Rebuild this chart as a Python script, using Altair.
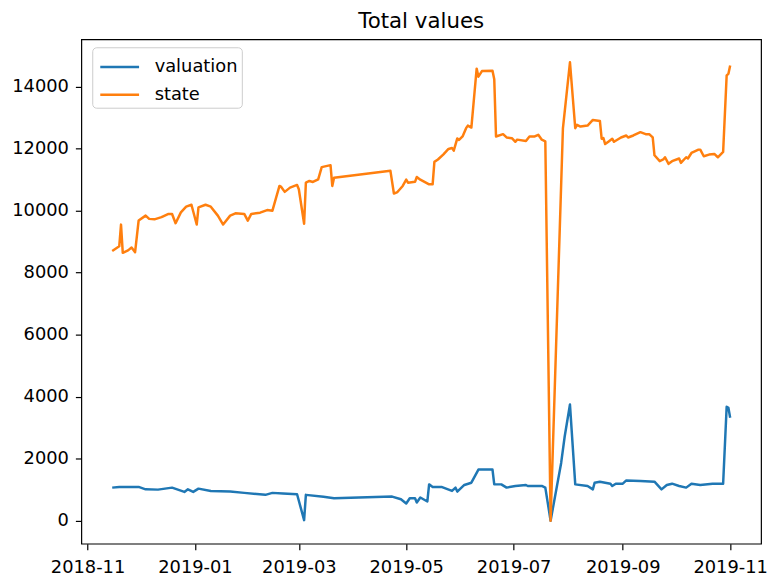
import altair as alt
import pandas as pd

series_names = ["valuation", "state"]
series_colors = ["#1f77b4", "#ff7f0e"]

valuation_dates = [
    "2018-11-15", "2018-11-19", "2018-11-30", "2018-12-04", "2018-12-11", "2018-12-19",
    "2018-12-26", "2018-12-28", "2018-12-31", "2019-01-03", "2019-01-10", "2019-01-21",
    "2019-01-29", "2019-02-10", "2019-02-14", "2019-02-20", "2019-02-28", "2019-03-04",
    "2019-03-05", "2019-03-15", "2019-03-21", "2019-04-23", "2019-04-28", "2019-05-01",
    "2019-05-03", "2019-05-06", "2019-05-07", "2019-05-09", "2019-05-13", "2019-05-14",
    "2019-05-16", "2019-05-21", "2019-05-27", "2019-05-29", "2019-05-30", "2019-06-03",
    "2019-06-07", "2019-06-09", "2019-06-11", "2019-06-19", "2019-06-20", "2019-06-24",
    "2019-06-27", "2019-07-02", "2019-07-08", "2019-07-09", "2019-07-17", "2019-07-19",
    "2019-07-22", "2019-07-28", "2019-07-30", "2019-08-02", "2019-08-05", "2019-08-12",
    "2019-08-15", "2019-08-16", "2019-08-19", "2019-08-25", "2019-08-26", "2019-08-28",
    "2019-09-01", "2019-09-03", "2019-09-11", "2019-09-19", "2019-09-23", "2019-09-26",
    "2019-09-29", "2019-10-03", "2019-10-07", "2019-10-10", "2019-10-15", "2019-10-22",
    "2019-10-28", "2019-10-30", "2019-10-31", "2019-11-01",
]
valuation_values = [
    1069, 1091, 1091, 1014, 1005, 1069,
    931, 1014, 931, 1037, 963, 941,
    900, 836, 900, 877, 855, 20,
    836, 772, 727, 781, 695, 558,
    727, 727, 590, 750, 622, 1174,
    1091, 1091, 963, 1069, 941, 1155,
    1228, 1442, 1652, 1652, 1174, 1174,
    1069, 1123, 1155, 1123, 1123, 1069,
    0, 1866, 2718, 3748, 1174, 1123,
    1014, 1228, 1260, 1196, 1123, 1196,
    1196, 1301, 1282, 1260, 1014, 1155,
    1196, 1123, 1069, 1196, 1155, 1196,
    1196, 3675, 3640, 3324,
]

state_dates = [
    "2018-11-15", "2018-11-19", "2018-11-20", "2018-11-21", "2018-11-24", "2018-11-26",
    "2018-11-28", "2018-11-30", "2018-12-04", "2018-12-06", "2018-12-09", "2018-12-13",
    "2018-12-17", "2018-12-19", "2018-12-21", "2018-12-24", "2018-12-27", "2018-12-30",
    "2019-01-02", "2019-01-03", "2019-01-07", "2019-01-10", "2019-01-14", "2019-01-17",
    "2019-01-21", "2019-01-24", "2019-01-29", "2019-01-31", "2019-02-02", "2019-02-07",
    "2019-02-11", "2019-02-14", "2019-02-18", "2019-02-19", "2019-02-21", "2019-02-24",
    "2019-02-28", "2019-03-01", "2019-03-04", "2019-03-05", "2019-03-07", "2019-03-09",
    "2019-03-12", "2019-03-14", "2019-03-19", "2019-03-20", "2019-03-21", "2019-04-22",
    "2019-04-24", "2019-04-26", "2019-04-29", "2019-05-01", "2019-05-02", "2019-05-06",
    "2019-05-07", "2019-05-09", "2019-05-14", "2019-05-16", "2019-05-17", "2019-05-19",
    "2019-05-22", "2019-05-25", "2019-05-27", "2019-05-28", "2019-05-30", "2019-05-31",
    "2019-06-02", "2019-06-04", "2019-06-05", "2019-06-07", "2019-06-10", "2019-06-11",
    "2019-06-13", "2019-06-19", "2019-06-20", "2019-06-21", "2019-06-25", "2019-06-27",
    "2019-06-30", "2019-07-02", "2019-07-03", "2019-07-08", "2019-07-10", "2019-07-13",
    "2019-07-15", "2019-07-17", "2019-07-19", "2019-07-22", "2019-07-29", "2019-08-02",
    "2019-08-05", "2019-08-06", "2019-08-08", "2019-08-12", "2019-08-15", "2019-08-19",
    "2019-08-20", "2019-08-21", "2019-08-22", "2019-08-24", "2019-08-26", "2019-08-27",
    "2019-08-31", "2019-09-03", "2019-09-04", "2019-09-07", "2019-09-11", "2019-09-14",
    "2019-09-16", "2019-09-18", "2019-09-19", "2019-09-22", "2019-09-24", "2019-09-25",
    "2019-09-27", "2019-09-29", "2019-10-03", "2019-10-04", "2019-10-07", "2019-10-08",
    "2019-10-10", "2019-10-14", "2019-10-15", "2019-10-17", "2019-10-20", "2019-10-23",
    "2019-10-25", "2019-10-28", "2019-10-30", "2019-10-31", "2019-11-01",
]
state_values = [
    8700, 8850, 9550, 8640, 8720, 8810,
    8660, 9680, 9840, 9735, 9720, 9790,
    9895, 9890, 9595, 9945, 10128, 10190,
    9553, 10105, 10190, 10128, 9840, 9553,
    9840, 9915, 9895, 9680, 9895, 9935,
    10020, 10000, 10797, 10765, 10606, 10743,
    10829, 10692, 9576, 10903, 10957, 10925,
    11011, 11404, 11467, 10797, 11063, 11290,
    10552, 10600, 10797, 11000, 10903, 10930,
    11085, 11000, 10850, 10850, 11573, 11649,
    11808, 11990, 12019, 11936, 12330, 12280,
    12392, 12660, 12743, 12680, 14580, 14320,
    14500, 14510, 14240, 12392, 12466, 12360,
    12338, 12220, 12290, 12245, 12392, 12392,
    12447, 12287, 12233, 0, 12657, 14785,
    12657, 12765, 12711, 12743, 12925, 12893,
    12319, 12340, 12147, 12233, 12319, 12220,
    12360, 12424, 12360, 12424, 12530, 12466,
    12466, 12360, 11786, 11595, 11650, 11722,
    11509, 11595, 11681, 11541, 11722, 11681,
    11860, 11968, 11968, 11754, 11808, 11828,
    11722, 11892, 14360, 14411, 14679,
]

x_tick_months = [(2018, 11), (2019, 1), (2019, 3), (2019, 5), (2019, 7), (2019, 9), (2019, 11)]
y_ticks = [0, 2000, 4000, 6000, 8000, 10000, 12000, 14000]

FONT = "DejaVu Sans"

val_df = pd.DataFrame({"date": valuation_dates, "value": valuation_values, "series": series_names[0]})
state_df = pd.DataFrame({"date": state_dates, "value": state_values, "series": series_names[1]})

x_enc = alt.X(
    "date:T",
    scale=alt.Scale(
        type="utc",
        nice=False,
        domain=[
            alt.DateTime(year=2018, month=10, date=28, hours=11, utc=True),
            alt.DateTime(year=2019, month=11, date=18, hours=13, utc=True),
        ],
    ),
    axis=alt.Axis(
        title=None,
        format="%Y-%m",
        values=[alt.DateTime(year=y, month=m, date=1, utc=True) for y, m in x_tick_months],
        grid=False,
        labelPadding=9,
        labelFlush=False,
        labelOverlap=False,
        labelBound=False,
    ),
)
y_enc = alt.Y(
    "value:Q",
    scale=alt.Scale(domain=[-739, 15524], nice=False, zero=False),
    axis=alt.Axis(title=None, values=y_ticks, format="d", grid=False, labelPadding=7),
)
legend = alt.Legend(
    title=None,
    orient="none",
    legendX=11,
    legendY=8,
    direction="vertical",
    symbolType="M-1.35,0H1.35",
    symbolSize=841,
    symbolStrokeWidth=2.5,
    labelFontSize=18,
    labelFont=FONT,
    labelColor="black",
    labelOffset=19.3,
    symbolOffset=7.7,
    padding=4,
    rowPadding=3,
    fillColor="rgba(255,255,255,0.8)",
    strokeColor="#cccccc",
    cornerRadius=4,
)
color_enc = alt.Color(
    "series:N",
    scale=alt.Scale(domain=series_names, range=series_colors),
    legend=legend,
)

line_kw = dict(strokeWidth=2.5, strokeJoin="round", clip=True)
val_line = alt.Chart(val_df).mark_line(**line_kw).encode(x=x_enc, y=y_enc, color=color_enc)
state_line = alt.Chart(state_df).mark_line(**line_kw).encode(x=x_enc, y=y_enc, color=color_enc)

chart = (
    alt.layer(val_line, state_line)
    .properties(
        width=686,
        height=509,
        autosize=alt.AutoSizeParams(type="none"),
        padding={"left": 74, "top": 29, "right": 7, "bottom": 34},
        title=alt.TitleParams(
            "Total values",
            font=FONT,
            fontSize=21.5,
            fontWeight="normal",
            color="black",
            anchor="middle",
            frame="group",
            baseline="alphabetic",
            offset=13,
            dy=23,
        ),
    )
    .configure(background="white")
    .configure_view(stroke="black", strokeWidth=1.2)
    .configure_axis(
        domain=False,
        labelFont=FONT,
        labelFontSize=18,
        labelColor="black",
        tickColor="black",
        tickSize=6,
        tickWidth=1.2,
    )
)

chart.save("out.html", embed_options={"renderer": "svg", "actions": False})
